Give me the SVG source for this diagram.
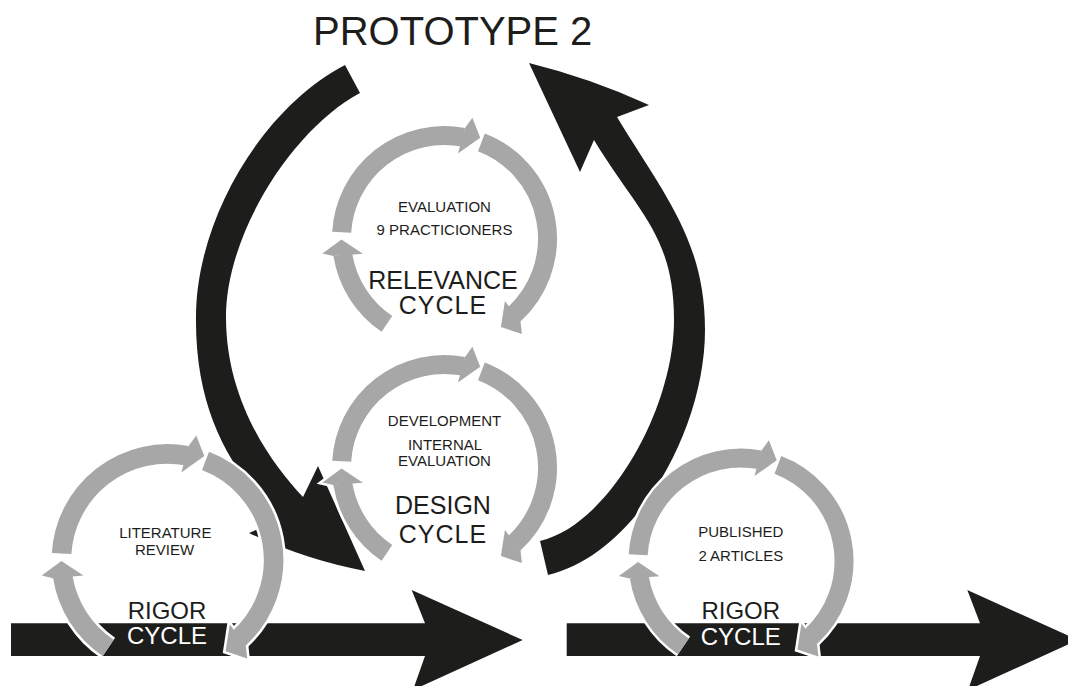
<svg xmlns="http://www.w3.org/2000/svg" xmlns:xlink="http://www.w3.org/1999/xlink" width="1068" height="686" viewBox="0 0 1068 686">
<style>
  .blk { fill: #1d1d1b; }
  text { font-family: "Liberation Sans", Arial, sans-serif; fill: #1d1d1b; text-anchor: middle; }
  .small { font-size: 15px; }
  .big { font-size: 25px; }
  .rig { font-size: 24px; }
  .wht { fill: #ffffff; }
  .title { font-size: 40px; text-anchor: start; }
</style>
<defs>
  <g id="cyc">
    <g fill="none" stroke="#ffffff" stroke-width="24">
      <path d="M -102.81 -6.29 A 103 103 0 0 1 18.77 -101.27"/>
      <path d="M 36.91 -96.16 A 103 103 0 0 1 69.59 75.94"/>
      <path d="M -57.60 85.39 A 103 103 0 0 1 -101.73 16.11"/>
    </g>
    <g fill="#ffffff" stroke="#ffffff" stroke-width="5" stroke-linejoin="miter">
      <polygon points="13.45,-84.94 20.50,-110.62 27.89,-120.82 35.72,-100.86"/>
      <polygon points="60.44,62.58 76.00,82.94 77.41,95.59 56.42,88.56"/>
      <polygon points="-81.61,15.13 -111.12,17.60 -122.08,14.99 -103.0,0.90"/>
    </g>
    <g fill="none" stroke="#a7a7a7" stroke-width="19">
      <path d="M -102.81 -6.29 A 103 103 0 0 1 18.77 -101.27"/>
      <path d="M 36.91 -96.16 A 103 103 0 0 1 69.59 75.94"/>
      <path d="M -57.60 85.39 A 103 103 0 0 1 -101.73 16.11"/>
    </g>
    <g fill="#a7a7a7">
      <polygon points="13.45,-84.94 20.50,-110.62 27.89,-120.82 35.72,-100.86"/>
      <polygon points="60.44,62.58 76.00,82.94 77.41,95.59 56.42,88.56"/>
      <polygon points="-81.61,15.13 -111.12,17.60 -122.08,14.99 -103.0,0.90"/>
    </g>
  </g>
</defs>

<rect width="1068" height="686" fill="#ffffff"/>

<g id="connectors">
  <path id="loop-down" class="blk" d="M 345 65 C 262 108 196 220 196 317 C 195 410 230 468 272 510 L 277 521 L 249 533 Q 304.5 559.6 365 571 L 318 466 L 303 497 C 270 462 226 400 226 317 C 226 232 294 128 360 93 Z"/>
  <path id="loop-up" class="blk" d="M 540 541 L 548 575 C 635.6 554.4 705 430 705 330 C 705 240 663.5 194 617 117 L 649 105 Q 591 78.3 529 63 L 580 172 L 594 140 C 638 212.8 674 235 674 320 C 674 410 608.1 525 540 541 Z"/>
  <polygon id="flow-left" class="blk" points="11,623.3 425,623.3 411.7,590 522.7,640 413,690 425,656 11,656"/>
  <polygon id="flow-right" class="blk" points="566.7,623.3 980,623.3 967.3,590 1078,640 968,690 980,656 566.7,656"/>
</g>

<g id="title">
  <text class="title" x="313" y="45">PROTOTYPE 2</text>
</g>

<g id="relevance-cycle">
  <use href="#cyc" xlink:href="#cyc" transform="translate(444.5,238.5)"/>
  <text class="small" x="444.5" y="212">EVALUATION</text>
  <text class="small" x="444.5" y="234.5">9 PRACTICIONERS</text>
  <text class="big" x="443" y="288.5">RELEVANCE</text>
  <text class="big" x="443" y="314" letter-spacing="1">CYCLE</text>
</g>

<g id="design-cycle">
  <use href="#cyc" xlink:href="#cyc" transform="translate(444.5,467.5)"/>
  <text class="small" x="444.5" y="426">DEVELOPMENT</text>
  <text class="small" x="445" y="450">INTERNAL</text>
  <text class="small" x="444.5" y="465.5">EVALUATION</text>
  <text class="big" x="443" y="514">DESIGN</text>
  <text class="big" x="443" y="542.5" letter-spacing="1">CYCLE</text>
</g>

<g id="rigor-cycle-1">
  <use href="#cyc" xlink:href="#cyc" transform="translate(167.5,560) scale(1.03)"/>
  <text class="small" x="165.3" y="538.3">LITERATURE</text>
  <text class="small" x="164.5" y="555">REVIEW</text>
  <text class="rig" x="167" y="619">RIGOR</text>
  <text class="rig wht" x="167" y="644">CYCLE</text>
</g>

<g id="rigor-cycle-2">
  <use href="#cyc" xlink:href="#cyc" transform="translate(741,561)"/>
  <text class="small" x="740.8" y="537.3">PUBLISHED</text>
  <text class="small" x="740.8" y="561">2 ARTICLES</text>
  <text class="rig" x="740.8" y="619">RIGOR</text>
  <text class="rig wht" x="740.8" y="645">CYCLE</text>
</g>
</svg>
